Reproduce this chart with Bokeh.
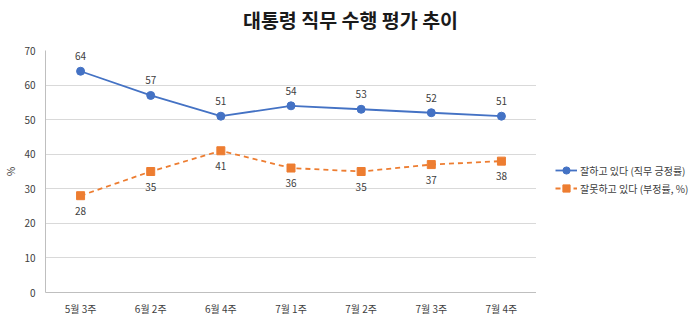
from bokeh.plotting import figure
from bokeh.layouts import column, row
from bokeh.models import ColumnDataSource, Legend, LegendItem, LabelSet
from bokeh.core.properties import value
from bokeh.embed import file_html
from bokeh.resources import INLINE

# Weekly presidential job approval survey
weeks = ["5월 3주", "6월 2주", "6월 4주", "7월 1주", "7월 2주", "7월 3주", "7월 4주"]
approve = [64, 57, 51, 54, 53, 52, 51]
disapprove = [28, 35, 41, 36, 35, 37, 38]
series_names = ["잘하고 있다 (직무 긍정률)", "잘못하고 있다 (부정률, %)"]
chart_title = "대통령 직무 수행 평가 추이"

FONT = "Noto Sans CJK KR"
BLUE = "#4472C4"
ORANGE = "#ED7D31"
TEXT = "#404040"

src = ColumnDataSource(dict(
    week=weeks,
    approve=approve,
    disapprove=disapprove,
    approve_txt=[str(v) for v in approve],
    disapprove_txt=[str(v) for v in disapprove],
))

# --- title strip -----------------------------------------------------------
head = figure(width=700, height=35, output_backend="svg", toolbar_location=None,
              x_axis_location=None, y_axis_location=None, title=chart_title,
              min_border_left=0, min_border_right=0, min_border_top=33,
              min_border_bottom=0, x_range=(0, 1), y_range=(0, 1))
head.outline_line_color = None
head.grid.visible = False
head.title.align = "center"
head.title.text_font = FONT
head.title.text_font_size = "19.5px"
head.title.text_font_style = "bold"
head.title.text_color = "#1a1a1a"
head.title.standoff = 0

# --- main chart ------------------------------------------------------------
p = figure(
    width=536, height=286, x_range=weeks, y_range=(0, 70),
    output_backend="svg", toolbar_location=None,
    min_border_left=45, min_border_right=0, min_border_top=15, min_border_bottom=29,
)
p.outline_line_color = None
p.background_fill_color = "white"

p.xgrid.grid_line_color = None
p.ygrid.grid_line_color = "#d9d9d9"
p.ygrid.grid_line_width = 1
p.yaxis.ticker = [0, 10, 20, 30, 40, 50, 60, 70]

for ax in (p.xaxis[0], p.yaxis[0]):
    ax.axis_line_color = "#bfbfbf"
    ax.major_tick_line_color = None
    ax.minor_tick_line_color = None
    ax.major_label_text_font = FONT
    ax.major_label_text_font_size = "10px"
    ax.major_label_text_color = TEXT
p.xaxis.major_label_standoff = 2
p.yaxis.major_label_standoff = 4
p.yaxis.axis_label = "%"
p.yaxis.axis_label_text_font = FONT
p.yaxis.axis_label_text_font_size = "10px"
p.yaxis.axis_label_text_font_style = "normal"
p.yaxis.axis_label_text_color = TEXT
p.yaxis.axis_label_standoff = 3

p.line("week", "approve", source=src, line_color=BLUE, line_width=1.8)
p.scatter("week", "approve", source=src, marker="circle", size=8,
          fill_color=BLUE, line_color=BLUE)
p.line("week", "disapprove", source=src, line_color=ORANGE, line_width=1.8,
       line_dash="5 4")
p.scatter("week", "disapprove", source=src, marker="square", size=8,
          fill_color=ORANGE, line_color=ORANGE)

p.add_layout(LabelSet(x="week", y="approve", text="approve_txt", source=src,
                      y_offset=11, text_align="center", text_baseline="bottom",
                      text_font=value(FONT), text_font_size=value("10px"),
                      text_color=TEXT))
p.add_layout(LabelSet(x="week", y="disapprove", text="disapprove_txt", source=src,
                      y_offset=-11, text_align="center", text_baseline="top",
                      text_font=value(FONT), text_font_size=value("10px"),
                      text_color=TEXT))

# --- legend column -----------------------------------------------------------
# The key panel re-uses the series so its legend swatches pick up the same
# styles; its y range lies above the data, so the lines themselves stay hidden.
key = figure(width=164, height=286, output_backend="svg", toolbar_location=None,
             x_axis_location=None, y_axis_location=None,
             min_border_left=0, min_border_right=0, min_border_top=0,
             min_border_bottom=0, x_range=weeks, y_range=(100, 200))
key.outline_line_color = None
key.grid.visible = False
k1 = key.line("week", "approve", source=src, line_color=BLUE, line_width=1.8)
k1m = key.scatter("week", "approve", source=src, marker="circle", size=7,
                  fill_color=BLUE, line_color=BLUE)
k2 = key.line("week", "disapprove", source=src, line_color=ORANGE, line_width=1.8,
              line_dash="5 4")
k2m = key.scatter("week", "disapprove", source=src, marker="square", size=7,
                  fill_color=ORANGE, line_color=ORANGE)

legend = Legend(
    items=[LegendItem(label=series_names[0], renderers=[k1, k1m]),
           LegendItem(label=series_names[1], renderers=[k2, k2m])],
    location=(19, 95), orientation="vertical",
    label_text_font=FONT, label_text_font_size="10px", label_text_color=TEXT,
    glyph_width=22, glyph_height=18, label_height=18, label_standoff=3,
    spacing=0, padding=0, margin=0,
    background_fill_alpha=0, border_line_color=None,
)
key.add_layout(legend, "center")

page = column(head, row(p, key, spacing=0), spacing=0)

open("out.html", "w").write(file_html(page, INLINE))
